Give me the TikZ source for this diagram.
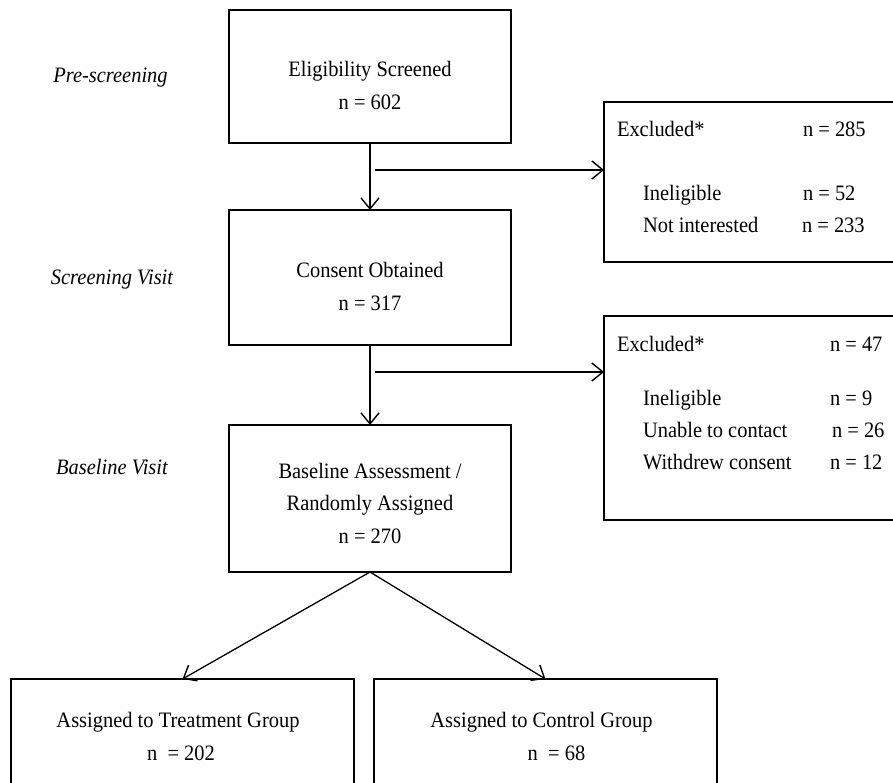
\documentclass[tikz,border=0pt]{standalone}
\usepackage{fontspec}
\setmainfont{Liberation Serif}[FakeStretch=0.93]
\usetikzlibrary{arrows.meta}
\begin{document}
\begin{tikzpicture}[x=1pt,y=-1pt,
  every node/.style={font=\fontsize{22}{26}\selectfont, inner sep=0pt, outer sep=0pt},
  box/.style={draw, line width=1.3pt, rectangle},
  arr/.style={line width=1.3pt, -{Straight Barb[length=11pt,width=18pt,line width=1.4pt]}},
  txt/.style={anchor=base},
  txtl/.style={anchor=base west},
  lbl/.style={anchor=base, font=\fontsize{22}{26}\selectfont\itshape}]
\fill[white] (0,0) rectangle (893,783);
\clip (0,0) rectangle (893,783);

% main boxes
\node[box, minimum width=282pt, minimum height=133pt] (b1) at (370,76.5) {};
\node[box, minimum width=282pt, minimum height=135pt] (b2) at (370,277.5) {};
\node[box, minimum width=282pt, minimum height=147pt] (b3) at (370,498.5) {};
% exclusion boxes
\node[box, minimum width=350pt, minimum height=160pt] (r1) at (779,182) {};
\node[box, minimum width=350pt, minimum height=204pt] (r2) at (779,418) {};
% group boxes
\node[box, minimum width=343pt, minimum height=151pt] (gl) at (182.5,754.5) {};
\node[box, minimum width=343pt, minimum height=151pt] (gr) at (545.5,754.5) {};

% texts
\node[txt] (t1a) at (370,77) {Eligibility Screened};
\node[txt] (t1b) at (370,110) {n = 602};
\node[txt] (t2a) at (370,277) {Consent Obtained};
\node[txt] (t2b) at (370,310) {n = 317};
\node[txt] (t3a) at (370,478) {Baseline Assessment /};
\node[txt] (t3b) at (370,510) {Randomly Assigned};
\node[txt] (t3c) at (370,543) {n = 270};

\node[txtl] (r1a) at (617,137) {Excluded*};
\node[txtl] (r1an) at (803,137) {n = 285};
\node[txtl] (r1b) at (643,201) {Ineligible};
\node[txtl] (r1bn) at (803,201) {n = 52};
\node[txtl] (r1c) at (643,233) {Not interested};
\node[txtl] (r1cn) at (802,233) {n = 233};

\node[txtl] (r2a) at (617,351) {Excluded*};
\node[txtl] (r2an) at (830,351) {n = 47};
\node[txtl] (r2b) at (643,405) {Ineligible};
\node[txtl] (r2bn) at (830,405) {n = 9};
\node[txtl] (r2c) at (643,437) {Unable to contact};
\node[txtl] (r2cn) at (832,437) {n = 26};
\node[txtl] (r2d) at (643,469) {Withdrew consent};
\node[txtl] (r2dn) at (830,469) {n = 12};

\node[txt] (gla) at (178,727) {Assigned to Treatment Group};
\node[txt] (glb) at (181,760) {n \ = 202};
\node[txt] (gra) at (541.5,727) {Assigned to Control Group};
\node[txt] (grb) at (556.5,760) {n \ = 68};

% stage labels
\node[lbl] (s1) at (110.5,83) {Pre-screening};
\node[lbl] (s2) at (112,285) {Screening Visit};
\node[lbl] (s3) at (112,474) {Baseline Visit};

% connectors
\draw[arr] (b1.south) -- (b2.north);
\coordinate (h1) at (375,170);
\draw[arr] (h1) -- (h1 -| r1.west);
\draw[arr] (b2.south) -- (b3.north);
\coordinate (h2) at (375,372);
\draw[arr] (h2) -- (h2 -| r2.west);
\draw[arr] (b3.south) -- (gl.north);
\draw[arr] (b3.south) -- (gr.north);
\end{tikzpicture}
\end{document}
